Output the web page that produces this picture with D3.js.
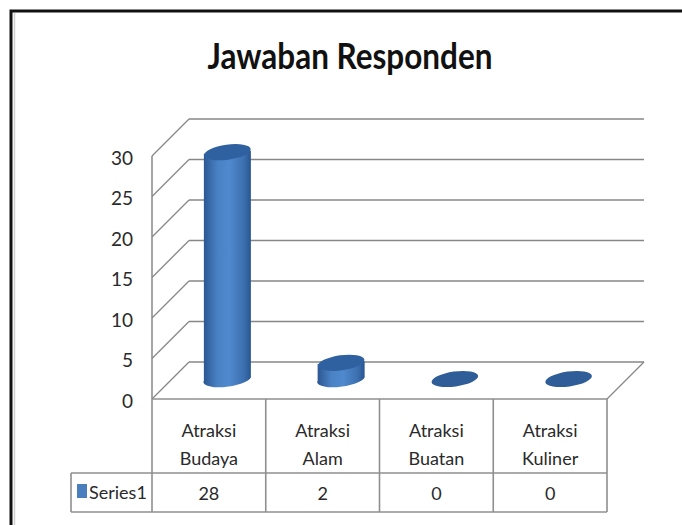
<!DOCTYPE html>
<html>
<head>
<meta charset="utf-8">
<script src="https://cdn.jsdelivr.net/npm/d3@7"></script>
<style>
  body { margin: 0; background: #fff; }
  text { font-family: Lato, "DejaVu Sans Condensed", sans-serif; fill: #2a2a2a; }
</style>
</head>
<body>
<script>
// chart data
const categories = ['Atraksi Budaya', 'Atraksi Alam', 'Atraksi Buatan', 'Atraksi Kuliner'];
const values = [28, 2, 0, 0];
const seriesName = 'Series1';
const yTicks = [0, 5, 10, 15, 20, 25, 30];
const title = 'Jawaban Responden';

const width = 682;
const height = 525;
const depth = 37;          // 3D offset of the back wall
const gridColor = '#878787';

const svg = d3.select('body').append('svg')
  .attr('width', width)
  .attr('height', height);

const defs = svg.append('defs');
const grad = defs.append('linearGradient').attr('id', 'cyl')
  .attr('x1', '0%').attr('x2', '100%').attr('y1', '0%').attr('y2', '0%');
grad.append('stop').attr('offset', '0%').attr('stop-color', '#2b5690');
grad.append('stop').attr('offset', '30%').attr('stop-color', '#4a82c6');
grad.append('stop').attr('offset', '55%').attr('stop-color', '#5089cd');
grad.append('stop').attr('offset', '85%').attr('stop-color', '#3c70b0');
grad.append('stop').attr('offset', '100%').attr('stop-color', '#2a5590');

// outer frame (left and top edges visible)
svg.append('path')
  .attr('d', `M11,${height} L11,11 L${width},11`)
  .attr('fill', 'none').attr('stroke', '#111').attr('stroke-width', 3);
svg.append('line')
  .attr('x1', 14.5).attr('x2', 14.5).attr('y1', 13).attr('y2', height)
  .attr('stroke', '#cfcfcf').attr('stroke-width', 1.5);

// title
svg.append('text')
  .attr('x', 350).attr('y', 69)
  .attr('text-anchor', 'middle')
  .attr('textLength', 285).attr('lengthAdjust', 'spacingAndGlyphs')
  .style('font-size', '36px').style('font-weight', 'bold')
  .style('fill', '#111')
  .text(title);

// scales
const x = d3.scaleBand().domain(categories).range([152, 607]).padding(0);
const y = d3.scaleLinear().domain([0, 30]).range([399, 156]);

// back wall gridlines
svg.append('g').selectAll('line.grid')
  .data(yTicks)
  .join('line')
  .attr('x1', 152 + depth).attr('x2', 607 + depth)
  .attr('y1', d => y(d) - depth).attr('y2', d => y(d) - depth)
  .attr('stroke', gridColor).attr('stroke-width', 1.6);

// side wall diagonals
svg.append('g').selectAll('line.diag')
  .data(yTicks)
  .join('line')
  .attr('x1', 152).attr('x2', 152 + depth)
  .attr('y1', d => y(d)).attr('y2', d => y(d) - depth)
  .attr('stroke', gridColor).attr('stroke-width', 1.3);

// side wall front edge and floor right edge
svg.append('line')
  .attr('x1', 152).attr('x2', 152).attr('y1', y(30)).attr('y2', y(0))
  .attr('stroke', gridColor).attr('stroke-width', 1.5);
svg.append('line')
  .attr('x1', 607).attr('x2', 607 + depth).attr('y1', y(0)).attr('y2', y(0) - depth)
  .attr('stroke', gridColor).attr('stroke-width', 1.3);

// y axis labels
const yAxis = svg.append('g')
  .attr('transform', 'translate(152,2)')
  .call(d3.axisLeft(y).tickValues(yTicks).tickSize(0).tickPadding(19));
yAxis.select('.domain').remove();
yAxis.selectAll('text')
  .style('font-size', '19px')
  .style('font-family', 'Lato, "DejaVu Sans Condensed", sans-serif')
  .attr('fill', '#2a2a2a');

// cylinders, placed at half depth
const rx = 23.5, ry = 7.5, tilt = -8;
const cyl = svg.append('g').selectAll('g')
  .data(categories.map((c, i) => ({ c, v: values[i] })))
  .join('g')
  .attr('transform', d => `translate(${x(d.c) + x.bandwidth() / 2 + depth / 2},0)`);

cyl.filter(d => d.v > 0).append('path')
  .attr('d', d => {
    const yt = y(d.v) - depth / 2;
    const yb = y(0) - depth / 2;
    return `M${-rx},${yt} L${-rx},${yb} A${rx},${ry} ${tilt} 0 0 ${rx},${yb - 3} L${rx},${yt - 3} Z`;
  })
  .attr('fill', 'url(#cyl)');

cyl.append('ellipse')
  .attr('cx', 0)
  .attr('cy', d => y(d.v) - depth / 2 - 1.5)
  .attr('rx', rx).attr('ry', ry)
  .attr('transform', d => `rotate(${tilt},0,${y(d.v) - depth / 2 - 1.5})`)
  .attr('fill', d => d.v > 0 ? '#2f609f' : '#2e5d98');

// data table
const rowTop = 399, rowMid = 473, rowBot = 512;
const tableColor = '#8f8f8f';
const table = svg.append('g');
table.append('line')
  .attr('x1', 152).attr('x2', 607).attr('y1', rowTop).attr('y2', rowTop)
  .attr('stroke', tableColor).attr('stroke-width', 1.6);
table.append('line')
  .attr('x1', 71).attr('x2', 607).attr('y1', rowMid).attr('y2', rowMid)
  .attr('stroke', tableColor).attr('stroke-width', 1.6);
table.append('line')
  .attr('x1', 71).attr('x2', 607).attr('y1', rowBot).attr('y2', rowBot)
  .attr('stroke', tableColor).attr('stroke-width', 1.6);
table.append('line')
  .attr('x1', 71).attr('x2', 71).attr('y1', rowMid).attr('y2', rowBot)
  .attr('stroke', tableColor).attr('stroke-width', 1.6);
table.selectAll('line.v')
  .data(categories.concat(['end']))
  .join('line')
  .attr('x1', (d, i) => i < categories.length ? x(d) : 607)
  .attr('x2', (d, i) => i < categories.length ? x(d) : 607)
  .attr('y1', rowTop).attr('y2', rowBot)
  .attr('stroke', tableColor).attr('stroke-width', 1.6);

// category labels (two lines)
const catText = table.selectAll('text.cat')
  .data(categories)
  .join('text')
  .attr('text-anchor', 'middle')
  .style('font-size', '18px');
catText.each(function (d) {
  const parts = d.split(' ');
  const cx = x(d) + x.bandwidth() / 2;
  d3.select(this).selectAll('tspan')
    .data(parts)
    .join('tspan')
    .attr('x', cx)
    .attr('y', (p, j) => 437 + j * 28)
    .text(p => p);
});

// values row
table.selectAll('text.val')
  .data(values)
  .join('text')
  .attr('x', (d, i) => x(categories[i]) + x.bandwidth() / 2)
  .attr('y', 500)
  .attr('text-anchor', 'middle')
  .style('font-size', '18px')
  .text(d => d);

// legend key
table.append('rect')
  .attr('x', 77).attr('y', 484).attr('width', 10).attr('height', 14)
  .attr('fill', '#4a7ebd');
table.append('text')
  .attr('x', 89).attr('y', 499)
  .style('font-size', '18px')
  .text(seriesName);
</script>
</body>
</html>
